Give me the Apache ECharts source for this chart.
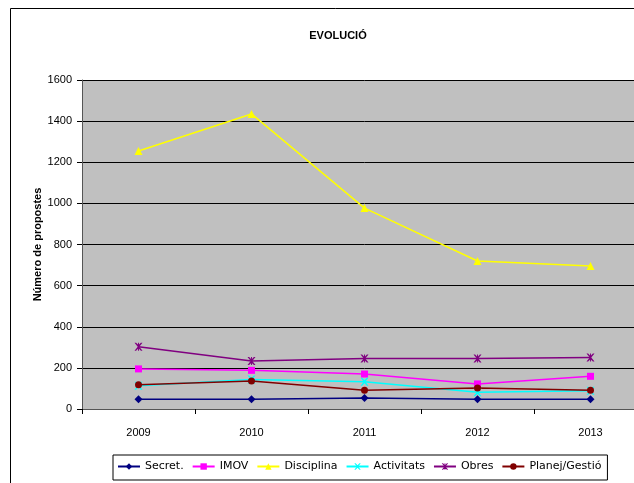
<!DOCTYPE html>
<html>
<head>
<meta charset="utf-8">
<script src="https://cdn.jsdelivr.net/npm/echarts@6/dist/echarts.min.js"></script>
<style>
  html, body { margin: 0; padding: 0; background: #fff; overflow: hidden; }
  #chart { width: 660px; height: 483px; }
</style>
</head>
<body>
<div id="chart"></div>
<script>
// dades
const years = ["2009", "2010", "2011", "2012", "2013"];
const secret = [47, 47, 53, 47, 47];
const imov = [195, 188, 170, 122, 159];
const disciplina = [1255, 1435, 977, 720, 695];
const activitats = [113, 144, 133, 81, 89];
const obres = [303, 233, 245, 245, 250];
const planej = [118, 136, 91, 102, 91];
const yTicks = [0, 200, 400, 600, 800, 1000, 1200, 1400, 1600];

const crossPath = "path://M0,0L2,0L5,3L8,0L10,0L6,5L10,10L8,10L5,7L2,10L0,10L4,5Z";
const starPath = "path://M0,0L2,0L5,3L8,0L10,0L6,5L10,10L8,10L5,7L2,10L0,10L4,5Z M4.4,0L5.6,0L5.6,10L4.4,10Z";

const chart = echarts.init(document.getElementById("chart"));

function mk(name, data, color, symbol, size) {
  return {
    name: name,
    type: "line",
    data: data,
    symbol: symbol,
    symbolSize: size,
    showAllSymbol: true,
    lineStyle: { color: color, width: 1.5 },
    itemStyle: { color: color },
    animation: false
  };
}

const option = {
  backgroundColor: "#fff",
  title: {
    text: "EVOLUCIÓ",
    left: 333,
    top: 25,
    textAlign: "center",
    textStyle: { fontFamily: "Liberation Sans Narrow, Liberation Sans, Arial", fontSize: 11, fontWeight: "bold", color: "#000" }
  },
  graphic: [
    { type: "rect", shape: { x: 10.5, y: 8.5, width: 700, height: 500 }, style: { fill: "none", stroke: "#000", lineWidth: 1 }, z: -1 }
  ],
  legend: {
    left: 113,
    top: 455,
    width: 520,
    padding: [6, 6, 8, 4],
    borderColor: "#000",
    borderWidth: 1,
    itemWidth: 22,
    itemHeight: 8,
    itemGap: 8,
    textStyle: { fontFamily: "DejaVu Sans", fontSize: 11, color: "#000" },
    data: ["Secret.", "IMOV", "Disciplina", "Activitats", "Obres", "Planej/Gestió"]
  },
  grid: { left: 82, top: 80, width: 565, height: 329, backgroundColor: "#c0c0c0", show: true, borderWidth: 0 },
  xAxis: {
    type: "category",
    data: years,
    boundaryGap: true,
    axisLine: { lineStyle: { color: "#555", width: 1 } },
    axisTick: { show: true, length: 5, lineStyle: { color: "#000" } },
    axisLabel: { margin: 18, fontFamily: "Liberation Sans", fontSize: 11, color: "#000" }
  },
  yAxis: {
    type: "value",
    min: yTicks[0],
    max: yTicks[yTicks.length - 1],
    interval: 200,
    name: "Número de propostes",
    nameLocation: "middle",
    nameGap: 39,
    nameMoveOverlap: false,
    nameRotate: 90,
    nameTextStyle: { fontFamily: "Liberation Sans", fontSize: 11, fontWeight: "bold", color: "#000" },
    axisLine: { show: true, lineStyle: { color: "#555", width: 1 } },
    axisTick: { show: true, length: 5, lineStyle: { color: "#000" } },
    axisLabel: { margin: 10, fontFamily: "Liberation Sans", fontSize: 11, color: "#000", formatter: function (v) { return String(v); } },
    splitLine: { show: true, lineStyle: { color: "#000", width: 1 } }
  },
  series: [
    mk("Secret.", secret, "#000080", "diamond", 8),
    mk("IMOV", imov, "#ff00ff", "rect", 7),
    mk("Disciplina", disciplina, "#ffff00", "triangle", 8),
    mk("Activitats", activitats, "#00ffff", crossPath, 8),
    mk("Obres", obres, "#800080", starPath, 8),
    mk("Planej/Gestió", planej, "#800000", "circle", 7)
  ]
};
chart.setOption(option);
</script>
</body>
</html>
